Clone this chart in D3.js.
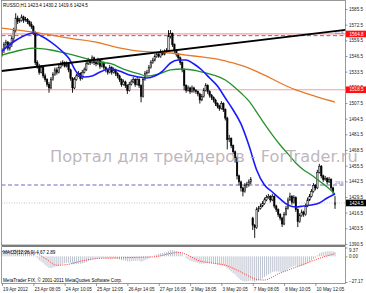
<!DOCTYPE html>
<html>
<head>
<meta charset="utf-8">
<script src="https://cdn.jsdelivr.net/npm/d3@7"></script>
<style>
  body { margin: 0; background: #fff; }
  svg { display: block; }
  .small { font-family: "Liberation Sans", Arial, sans-serif; font-size: 4.6px; fill: #000; }
</style>
</head>
<body>
<svg id="chart" width="366" height="293"></svg>
<script>
// --- DATA (RUSSO, H1, 19 Apr - 10 May 2012) ---
const opens = [
  1548,1551,1556,1558,1553,1556,1561,1568,1578,1575,
  1576,1579,1576,1577,1575,1573,1571,1566,1541,1538,
  1533,1537,1530,1527,1523,1520,1527,1531,1535,1533,
  1537,1540,1541,1538,1540,1535,1528,1520,1527,1530,
  1532,1528,1533,1535,1540,1543,1541,1545,1541,1540,
  1543,1538,1541,1537,1535,1533,1537,1533,1535,1532,
  1530,1527,1523,1525,1522,1518,1523,1525,1527,1523,
  1527,1522,1513,1527,1532,1533,1537,1541,1543,1546,
  1548,1546,1550,1548,1550,1551,1563,1565,1556,1551,
  1548,1545,1541,1535,1522,1518,1520,1517,1520,1518,
  1517,1515,1510,1513,1518,1522,1517,1514,1512,1510,
  1507,1505,1503,1507,1502,1495,1477,1478,1472,1467,
  1462,1447,1442,1437,1434,1439,1440,1442,1412,1406,
  1404,1419,1420,1422,1424,1427,1429,1430,1427,1430,
  1422,1419,1415,1412,1407,1415,1420,1427,1430,1425,
  1429,1419,1409,1414,1417,1415,1422,1427,1430,1434,
  1439,1437,1450,1455,1447,1444,1445,1442,1444,1437,
  1423.4
];
const highs = [
  1553,1558,1560,1559,1558,1563,1570,1582,1580,1578,
  1581,1580,1579,1578,1576,1575,1572,1567,1543,1540,
  1539,1538,1532,1528,1525,1529,1533,1537,1537,1539,
  1542,1543,1542,1542,1541,1536,1529,1529,1532,1534,
  1533,1535,1537,1542,1545,1544,1547,1546,1543,1545,
  1544,1543,1542,1538,1536,1539,1538,1537,1536,1533,
  1531,1528,1527,1526,1523,1525,1527,1529,1528,1529,
  1528,1523,1529,1534,1535,1539,1543,1545,1548,1550,
  1549,1552,1551,1552,1553,1568,1568,1566,1557,1552,
  1549,1546,1542,1536,1523,1522,1521,1522,1521,1519,
  1518,1516,1515,1520,1524,1523,1518,1515,1513,1511,
  1508,1506,1509,1508,1503,1496,1481,1479,1473,1468,
  1463,1448,1443,1438,1441,1442,1444,1446,1413,1407,
  1421,1422,1424,1426,1429,1431,1432,1431,1432,1431,
  1423,1420,1416,1413,1417,1422,1429,1433,1431,1431,
  1430,1420,1416,1419,1418,1424,1429,1432,1436,1441,
  1440,1452,1457,1456,1448,1447,1446,1446,1445,1438,
  1430.2
];
const lows = [
  1546,1549,1554,1551,1551,1554,1558,1566,1573,1574,
  1575,1574,1575,1573,1571,1569,1564,1539,1536,1531,
  1532,1528,1525,1521,1516,1519,1526,1530,1531,1532,
  1536,1538,1537,1537,1533,1526,1516,1519,1526,1529,
  1526,1527,1532,1534,1539,1539,1540,1539,1538,1539,
  1536,1537,1535,1533,1531,1532,1531,1532,1530,1528,
  1525,1521,1522,1520,1515,1517,1522,1524,1521,1522,
  1520,1508,1512,1526,1531,1532,1536,1540,1542,1545,
  1545,1545,1547,1547,1549,1550,1561,1554,1549,1546,
  1543,1539,1533,1518,1516,1517,1515,1516,1516,1515,
  1513,1507,1509,1512,1517,1515,1512,1510,1508,1505,
  1503,1501,1502,1500,1493,1469,1475,1470,1465,1458,
  1444,1439,1434,1430,1433,1437,1438,1440,1402,1395.5,
  1403,1417,1419,1421,1423,1426,1428,1425,1426,1420,
  1417,1413,1410,1404.5,1406,1414,1419,1426,1423,1424,
  1417,1404.5,1408,1413,1413,1414,1421,1426,1429,1433,
  1435,1436,1449,1445,1442,1443,1440,1441,1435,1432,
  1419.6
];
const closes = [
  1551,1556,1558,1553,1556,1561,1568,1578,1575,1576,
  1579,1576,1577,1575,1573,1571,1566,1541,1538,1533,
  1537,1530,1527,1523,1520,1527,1531,1535,1533,1537,
  1540,1541,1538,1540,1535,1528,1520,1527,1530,1532,
  1528,1533,1535,1540,1543,1541,1545,1541,1540,1543,
  1538,1541,1537,1535,1533,1537,1533,1535,1532,1530,
  1527,1523,1525,1522,1518,1523,1525,1527,1523,1527,
  1522,1513,1527,1532,1533,1537,1541,1543,1546,1548,
  1546,1550,1548,1550,1551,1563,1565,1556,1551,1548,
  1545,1541,1535,1522,1518,1520,1517,1520,1518,1517,
  1515,1510,1513,1518,1522,1517,1514,1512,1510,1507,
  1505,1503,1507,1502,1495,1477,1478,1472,1467,1462,
  1447,1442,1437,1434,1439,1440,1442,1444,1406,1404,
  1419,1420,1422,1424,1427,1429,1430,1427,1430,1422,
  1419,1415,1412,1407,1415,1420,1427,1430,1425,1429,
  1419,1409,1414,1417,1415,1422,1427,1430,1434,1439,
  1437,1450,1455,1447,1444,1445,1442,1444,1437,1434,
  1424.5
];

// moving averages: [bar index, price]
const maFast = [[0,1550.6],[5,1557.3],[10,1562.3],[16,1565.6],[20,1563.1],[25,1558.1],[30,1551.5],[34,1544.8],[38,1533.2],[42,1529.1],[46,1529.9],[50,1533.2],[55,1535.7],[60,1534.0],[65,1530.7],[70,1529.1],[74,1528.2],[78,1529.9],[82,1534.0],[86,1540.7],[90,1543.2],[94,1543.2],[98,1539.9],[102,1534.9],[106,1528.2],[110,1521.6],[114,1511.6],[118,1501.7],[122,1490.1],[126,1472.6],[130,1451.9],[134,1439.4],[138,1433.6],[142,1427.8],[146,1422.8],[150,1421.2],[154,1422.0],[158,1422.8],[162,1424.5],[166,1428.6],[170,1431.9]];
const maMid = [[0,1547.3],[10,1551.5],[16,1553.1],[25,1551.5],[34,1548.2],[42,1544.8],[50,1541.5],[56,1539.9],[62,1535.7],[70,1531.6],[74,1529.9],[80,1531.6],[86,1534.9],[92,1535.7],[100,1534.0],[108,1530.7],[114,1526.6],[118,1521.6],[122,1515.8],[126,1509.2],[130,1500.0],[134,1490.1],[138,1481.0],[142,1472.6],[146,1465.2],[150,1457.7],[154,1451.9],[158,1447.7],[162,1442.7],[166,1437.8],[170,1431.9]];
const maSlow = [[0,1569.7],[16,1566.4],[34,1561.4],[50,1557.3],[56,1554.8],[70,1550.6],[86,1549.0],[94,1547.3],[102,1545.7],[110,1544.0],[118,1540.7],[126,1536.5],[134,1530.7],[142,1524.1],[150,1518.3],[158,1514.1],[166,1510.0],[170,1508.3]];

// trend line anchors [bar index, price]
const trendAnchors = [[0,1534.1],[170,1567.1]];

// horizontal levels
const redLevels = [1564.8, 1518.5];
const fibPrices = [1563.4, 1439.4];
const fibLabels = ["61.8", "23.6"];
const lastPrice = 1424.5;

// MACD(12,26,9)
const macdMain = [
  4.5,5.0,5.2,5.0,5.1,5.6,6.3,7.2,7.3,7.1,
  7.0,6.6,6.2,5.8,5.2,4.6,3.6,0.5,-1.8,-4.2,
  -5.5,-7.3,-9.1,-10.8,-12.3,-12.4,-12.0,-11.3,-10.6,-9.8,
  -8.8,-7.9,-7.4,-6.9,-6.8,-7.2,-8.3,-8.4,-8.2,-7.9,
  -7.9,-7.5,-7.0,-6.1,-5.0,-4.3,-3.5,-3.1,-2.8,-2.3,
  -2.2,-1.9,-2.0,-2.2,-2.4,-2.3,-2.4,-2.4,-2.6,-2.9,
  -3.4,-4.0,-4.3,-4.8,-5.4,-5.4,-5.2,-4.9,-4.9,-4.6,
  -4.7,-5.7,-5.1,-4.1,-3.3,-2.3,-1.0,0.1,1.2,2.1,
  2.7,3.4,3.8,4.2,4.5,5.6,6.5,6.6,6.3,5.7,
  5.0,4.0,2.6,0.2,-1.9,-3.3,-4.6,-5.3,-5.9,-6.4,
  -6.9,-7.7,-7.9,-7.7,-7.2,-7.2,-7.3,-7.5,-7.8,-8.3,
  -8.8,-9.3,-9.3,-9.7,-10.6,-12.8,-14.3,-16.0,-17.7,-19.3,
  -21.6,-23.6,-25.3,-26.4,-26.6,-26.5,-26.1,-25.6,-26.4,-27.17,
  -26.3,-25.4,-24.4,-23.2,-21.8,-20.4,-19.0,-18.0,-16.7,-16.2,
  -16.0,-16.0,-16.2,-16.6,-16.0,-15.0,-13.6,-12.1,-11.2,-10.1,
  -10.0,-10.6,-10.4,-10.0,-9.6,-8.6,-7.3,-5.9,-4.4,-2.8,
  -1.6,1.0,3.2,4.0,4.6,5.0,5.3,5.6,5.3,5.2,
  4.67
];
const macdSignal = [[0,5.2],[8,5.2],[16,4.2],[22,-2.1],[28,-9.4],[34,-8.4],[40,-5.2],[50,-2.1],[60,-1.6],[70,-1.0],[78,-0.5],[86,3.1],[90,4.2],[94,2.1],[100,-4.2],[108,-7.3],[114,-9.4],[120,-14.6],[126,-20.9],[130,-24.5],[134,-25.1],[138,-21.9],[142,-17.7],[146,-14.6],[150,-11.5],[154,-8.4],[158,-5.2],[162,-2.1],[166,0.5],[170,2.89]];

// axis labels
const priceTicks = [1585.5,1572.5,1559.5,1546.5,1533.5,1520.5,1507.5,1494.5,1481.5,1468.5,1455.5,1442.5,1429.5,1416.5,1403.5,1390.5];
const macdTicks = [9.37, 0.00, -27.17];
const timeTickIdx = [0,16,32,48,64,80,96,112,128,144,160];
const timeLabels = ["19 Apr 2012","23 Apr 08:05","24 Apr 10:05","25 Apr 12:05","26 Apr 14:05","27 Apr 16:05","2 May 18:05","3 May 20:05","7 May 08:05","8 May 10:05","10 May 12:05"];

// --- LAYOUT ---
const plotL = 1.5, plotR = 345.5, mainTop = 0.5, mainBot = 245;
const macdTop = 247, macdBot = 283.5;

const svg = d3.select("#chart");
svg.append("rect").attr("width", 366).attr("height", 293).attr("fill", "#fff");

const x = d3.scaleLinear().domain([0, 170]).range([2, 335]);
const y = d3.scaleLinear().domain([1389.6, 1593.0]).range([mainBot, 0]);
const ym = d3.scaleLinear().domain([-27.17, 9.37]).range([282, 247.5]);

svg.append("clipPath").attr("id", "clipMain")
  .append("rect").attr("x", plotL).attr("y", mainTop).attr("width", plotR - plotL).attr("height", mainBot - mainTop);
svg.append("clipPath").attr("id", "clipMacd")
  .append("rect").attr("x", plotL).attr("y", macdTop).attr("width", plotR - plotL).attr("height", macdBot - macdTop);

const main = svg.append("g").attr("clip-path", "url(#clipMain)");

// horizontal levels
main.selectAll("line.red").data(redLevels).join("line")
  .attr("x1", plotL).attr("x2", plotR)
  .attr("y1", d => y(d)).attr("y2", d => y(d))
  .attr("stroke", "#ff9a9a").attr("stroke-width", 1.2);

main.selectAll("line.fib").data(fibPrices).join("line")
  .attr("x1", plotL).attr("x2", plotR)
  .attr("y1", d => y(d)).attr("y2", d => y(d))
  .attr("stroke", "#5a5ab8").attr("stroke-width", 0.9).attr("stroke-dasharray", "4,2.5");

main.selectAll("text.fib").data(fibPrices).join("text")
  .attr("x", 343.5).attr("y", d => y(d) - 1.2)
  .attr("text-anchor", "end")
  .style("font-family", "'Liberation Sans', Arial, sans-serif").style("font-size", "4.4px")
  .attr("fill", "#5a5ab8")
  .text((d, k) => fibLabels[k]);

main.append("line")
  .attr("x1", plotL).attr("x2", plotR)
  .attr("y1", y(lastPrice)).attr("y2", y(lastPrice))
  .attr("stroke", "#b8b8b8").attr("stroke-width", 0.8).attr("stroke-dasharray", "1,1.5");

// candles
const bars = closes.map((c, i) => ({ i, o: opens[i], h: highs[i], l: lows[i], c }));

main.selectAll("line.wick").data(bars).join("line")
  .attr("x1", d => x(d.i)).attr("x2", d => x(d.i))
  .attr("y1", d => y(d.h)).attr("y2", d => y(d.l))
  .attr("stroke", "#000").attr("stroke-width", 0.9);

main.selectAll("rect.body").data(bars).join("rect")
  .attr("x", d => x(d.i) - 0.75).attr("width", 1.5)
  .attr("y", d => y(Math.max(d.o, d.c)))
  .attr("height", d => Math.max(0.6, Math.abs(y(d.o) - y(d.c))))
  .attr("fill", d => d.c >= d.o ? "#cfcfcf" : "#000")
  .attr("stroke", "#000").attr("stroke-width", 0.5);

// moving averages
const maLine = d3.line().x(d => x(d[0])).y(d => y(d[1])).curve(d3.curveMonotoneX);
main.append("path").attr("d", maLine(maSlow)).attr("fill", "none").attr("stroke", "#e8782a").attr("stroke-width", 1.3);
main.append("path").attr("d", maLine(maMid)).attr("fill", "none").attr("stroke", "#24922a").attr("stroke-width", 1.3);
main.append("path").attr("d", maLine(maFast)).attr("fill", "none").attr("stroke", "#1a1aff").attr("stroke-width", 1.6);

// trend line, extended to both edges
const tx0 = x(trendAnchors[0][0]), ty0 = y(trendAnchors[0][1]);
const tx1 = x(trendAnchors[1][0]), ty1 = y(trendAnchors[1][1]);
const slope = (ty1 - ty0) / (tx1 - tx0);
main.append("line")
  .attr("x1", plotL).attr("y1", ty0 + (plotL - tx0) * slope)
  .attr("x2", plotR).attr("y2", ty0 + (plotR - tx0) * slope)
  .attr("stroke", "#000").attr("stroke-width", 1.8);

// header text
svg.append("text").attr("class", "small").attr("x", 3).attr("y", 7)
  .text("RUSSO,H1  1423.4 1430.2 1419.6 1424.5");

// --- MACD window ---
const macd = svg.append("g").attr("clip-path", "url(#clipMacd)");

macd.selectAll("line.hist").data(macdMain).join("line")
  .attr("x1", (d, i) => x(i)).attr("x2", (d, i) => x(i))
  .attr("y1", ym(0)).attr("y2", d => ym(d))
  .attr("stroke", "#b6bccb").attr("stroke-width", 0.9);

const sigLine = d3.line().x(d => x(d[0])).y(d => ym(d[1])).curve(d3.curveMonotoneX);
macd.append("path").attr("d", sigLine(macdSignal))
  .attr("fill", "none").attr("stroke", "#ff2020").attr("stroke-width", 0.9).attr("stroke-dasharray", "1,1.2");

svg.append("text").attr("class", "small").attr("x", 3).attr("y", 253.5)
  .text("MACD(12,26,9) 4.67 2.89");
svg.append("text").attr("class", "small").attr("x", 3).attr("y", 281.8)
  .text("MetaTrader FIX, © 2001-2011 MetaQuotes Software Corp.");

// --- frames ---
svg.append("rect").attr("x", plotL).attr("y", mainTop).attr("width", plotR - plotL).attr("height", mainBot - mainTop)
  .attr("fill", "none").attr("stroke", "#808080").attr("stroke-width", 0.8);
svg.append("rect").attr("x", plotL).attr("y", mainBot).attr("width", plotR - plotL).attr("height", 2)
  .attr("fill", "#7c7c7c");
svg.append("line").attr("x1", plotL).attr("x2", plotL).attr("y1", macdTop).attr("y2", macdBot).attr("stroke", "#808080").attr("stroke-width", 0.8);
svg.append("line").attr("x1", plotR).attr("x2", plotR).attr("y1", macdTop).attr("y2", macdBot).attr("stroke", "#808080").attr("stroke-width", 0.8);
svg.append("line").attr("x1", plotL).attr("x2", plotR).attr("y1", macdBot).attr("y2", macdBot).attr("stroke", "#808080").attr("stroke-width", 0.8);

// --- axes ---
function styleAxis(g) {
  g.select(".domain").remove();
  g.selectAll(".tick line").attr("stroke", "#555").attr("stroke-width", 0.6);
  g.selectAll(".tick text")
    .style("font-family", "'Liberation Sans', Arial, sans-serif")
    .style("font-size", "4.6px").attr("fill", "#222");
}

svg.append("g").attr("transform", `translate(${plotR},0)`)
  .call(d3.axisRight(y).tickValues(priceTicks).tickFormat(d3.format(".1f")).tickSize(2).tickPadding(1.5))
  .call(styleAxis);

const macdAxis = svg.append("g").attr("transform", `translate(${plotR},0)`)
  .call(d3.axisRight(ym).tickValues(macdTicks).tickFormat(d3.format(".2f")).tickSize(2).tickPadding(1.5))
  .call(styleAxis);
macdAxis.selectAll(".tick text").attr("dy", (d, k) => k === 0 ? "0.95em" : (k === 2 ? "0.05em" : "0.32em"));

const timeAxis = svg.append("g").attr("transform", `translate(0,${macdBot})`)
  .call(d3.axisBottom(x).tickValues(timeTickIdx).tickFormat((d, k) => timeLabels[k]).tickSize(2.5).tickPadding(1.5))
  .call(styleAxis);
timeAxis.selectAll(".tick text").attr("text-anchor", "start").attr("dx", "0.6");

// price label boxes
const boxes = redLevels.map(p => ({ p, fill: "#ff1010" })).concat([{ p: lastPrice, fill: "#000" }]);
const boxG = svg.selectAll("g.box").data(boxes).join("g")
  .attr("transform", d => `translate(${plotR + 0.5},${y(d.p)})`);
boxG.append("rect").attr("x", 0).attr("y", -3.3).attr("width", 20.5).attr("height", 6.6).attr("fill", d => d.fill);
boxG.append("text").attr("x", 3.5).attr("y", 1.7)
  .style("font-family", "'Liberation Sans', Arial, sans-serif").style("font-size", "4.6px")
  .attr("fill", "#fff")
  .text(d => d.p.toFixed(1));

// watermark on top, running past the plot edge as in the screenshot;
// font size is fitted so the natural text width is 308px
const wm = svg.append("text")
  .attr("x", 50).attr("y", 162)
  .style("font-family", "'DejaVu Sans', Verdana, sans-serif")
  .style("font-size", "17px")
  .attr("fill", "#b3a8b1").attr("fill-opacity", 0.85)
  .text("Портал для трейдеров - ForTrader.ru");
const wmLen = wm.node().getComputedTextLength();
wm.style("font-size", (17 * 308 / wmLen).toFixed(2) + "px");
</script>
</body>
</html>
